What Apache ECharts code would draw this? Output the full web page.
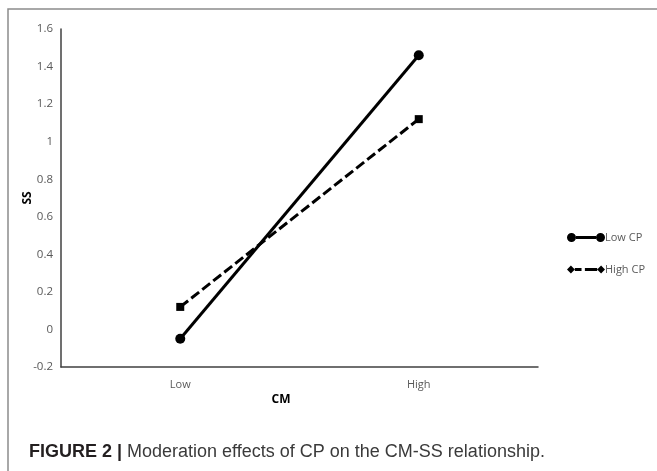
<!DOCTYPE html>
<html>
<head>
<meta charset="utf-8">
<script src="https://cdn.jsdelivr.net/npm/echarts@6/dist/echarts.min.js"></script>
<style>
html,body{margin:0;padding:0;background:#fff;}
#chart{width:657px;height:471px;}
</style>
</head>
<body>
<div id="chart"></div>
<script>
var categories = ['Low', 'High'];
var lowCP = [-0.05, 1.46];
var highCP = [0.12, 1.12];
var yTickLabels = ['-0.2','0','0.2','0.4','0.6','0.8','1','1.2','1.4','1.6'];
var seriesNames = ['Low CP', 'High CP'];
var xTitle = 'CM';
var yTitle = 'SS';
var captionBold = 'FIGURE 2 |';
var captionText = 'Moderation effects of CP on the CM-SS relationship.';

var chart = echarts.init(document.getElementById('chart'), null, {renderer: 'canvas'});
var tickFont = '"Open Sans", "Liberation Sans", sans-serif';

var iconLow = 'path://M0,5 A4.5,4.5 0 1,1 9,5 A4.5,4.5 0 1,1 0,5 Z M9,3.6 L29,3.6 L29,6.4 L9,6.4 Z M29,5 A4.5,4.5 0 1,1 38,5 A4.5,4.5 0 1,1 29,5 Z';
var iconHigh = 'path://M0,5 L3.5,1.5 L7,5 L3.5,8.5 Z M7,3.6 L13,3.6 L13,6.4 L7,6.4 Z M16,3.6 L27,3.6 L27,6.4 L16,6.4 Z M27,5 L30.5,1.5 L34,5 L30.5,8.5 Z';

chart.setOption({
  animation: false,
  backgroundColor: '#fff',
  title: {
    left: 24, top: 438,
    text: '{b|' + captionBold + '} {r|' + captionText + '}',
    textStyle: {
      fontWeight: 'normal',
      rich: {
        b: {fontFamily: '"Liberation Sans", Arial, sans-serif', fontWeight: 'bold', fontSize: 18, color: '#231f20'},
        r: {fontFamily: '"Liberation Sans", Arial, sans-serif', fontWeight: 'normal', fontSize: 18, color: '#3a3a3a'}
      }
    }
  },
  graphic: [{
    type: 'polyline',
    shape: {points: [[8, 480], [8, 9], [670, 9]]},
    style: {stroke: '#8c8c8c', lineWidth: 1.5, fill: null},
    silent: true
  }],
  legend: {
    orient: 'vertical',
    left: 562, top: 227,
    itemWidth: 38, itemHeight: 10, itemGap: 21,
    textStyle: {fontFamily: tickFont, fontSize: 11, color: '#595959', padding: [0, 0, 0, -5]},
    data: [
      {name: seriesNames[0], icon: iconLow},
      {name: seriesNames[1], icon: iconHigh}
    ]
  },
  grid: {left: 61, right: 119, top: 29, bottom: 104, containLabel: false},
  xAxis: {
    type: 'category',
    data: categories,
    boundaryGap: true,
    name: xTitle,
    nameLocation: 'middle',
    nameGap: 27,
    nameMoveOverlap: false,
    nameTextStyle: {fontFamily: tickFont, fontWeight: 'bold', fontSize: 12, color: '#000', padding: [0, 37, 0, 0]},
    axisLine: {onZero: false, lineStyle: {color: '#404040', width: 1.5}},
    axisTick: {show: false},
    axisLabel: {fontFamily: tickFont, fontSize: 11, color: '#595959', margin: 12}
  },
  yAxis: {
    type: 'value',
    min: -0.2, max: 1.6, interval: 0.2,
    name: yTitle,
    nameLocation: 'middle',
    nameRotate: 90,
    nameGap: 27,
    nameMoveOverlap: false,
    nameTextStyle: {fontFamily: tickFont, fontWeight: 'bold', fontSize: 12, color: '#000'},
    axisLine: {show: true, lineStyle: {color: '#404040', width: 1.5}},
    axisTick: {show: false},
    splitLine: {show: false},
    axisLabel: {
      fontFamily: tickFont, fontSize: 11.5, color: '#595959', margin: 8,
      formatter: function (v) {
        var idx = Math.round((v + 0.2) / 0.2);
        return yTickLabels[idx] !== undefined ? yTickLabels[idx] : '';
      }
    }
  },
  series: [{
    name: seriesNames[0],
    type: 'line',
    data: lowCP,
    symbol: 'circle',
    symbolSize: 10,
    itemStyle: {color: '#000'},
    lineStyle: {color: '#000', width: 3}
  }, {
    name: seriesNames[1],
    type: 'line',
    data: highCP,
    symbol: 'rect',
    symbolSize: 8,
    itemStyle: {color: '#000'},
    lineStyle: {color: '#000', width: 3, type: [10, 4]}
  }]
});
</script>
</body>
</html>
